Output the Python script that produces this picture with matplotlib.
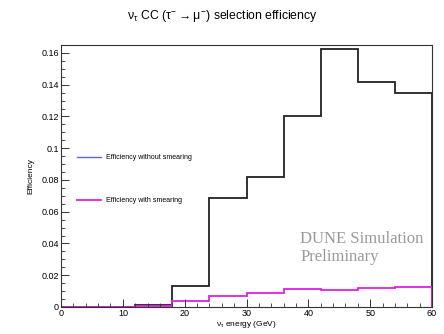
import numpy as np
import matplotlib
matplotlib.use("Agg")
import matplotlib.pyplot as plt
from matplotlib.lines import Line2D
from matplotlib.ticker import MultipleLocator

# ── Data ────────────────────────────────────────────────────────────────────────
bin_edges   = [0, 6, 12, 18, 24, 30, 36, 42, 48, 54, 60]
eff_nosmear = [0.0, 0.0, 0.0012, 0.0135, 0.0688, 0.0818, 0.1203, 0.1622, 0.1418, 0.1350]
eff_smear   = [0.0, 0.0, 0.0006, 0.0036, 0.0067, 0.0086, 0.0111, 0.0105, 0.0120, 0.0126]
legend_labels = ["Efficiency without smearing", "Efficiency with smearing"]

plt.rcParams["font.family"] = ["Liberation Sans", "DejaVu Sans"]
plt.rcParams["mathtext.fontset"] = "custom"
plt.rcParams["mathtext.rm"] = "Liberation Sans"
plt.rcParams["mathtext.it"] = "Liberation Sans"

fig = plt.figure(figsize=(4.44, 3.34), dpi=100)
ax = fig.add_axes([61 / 444, 1 - 307 / 334, 371 / 444, 262 / 334])

ax.stairs(eff_nosmear, bin_edges, color="#222222", linewidth=1.3)
ax.stairs(eff_smear, bin_edges, color="#e020e0", linewidth=1.3)

ax.set_xlim(0, 60)
ax.set_ylim(0, 0.165)
ax.xaxis.set_major_locator(MultipleLocator(10))
ax.xaxis.set_minor_locator(MultipleLocator(2))
ax.yaxis.set_major_locator(MultipleLocator(0.02))
ax.yaxis.set_minor_locator(MultipleLocator(0.005))
ax.yaxis.set_major_formatter(plt.FuncFormatter(lambda v, p: f"{v:g}"))
ax.tick_params(which="both", direction="in", top=False, right=False, labelsize=6.5,
               pad=1.5, color="#333333")
ax.tick_params(which="major", length=6, width=0.7)
ax.tick_params(which="minor", length=3, width=0.6)
for s in ax.spines.values():
    s.set_linewidth(0.8)
    s.set_color("#333333")

ax.set_xlabel(r"$\nu_\tau$ energy (GeV)", fontsize=6, labelpad=1)
ax.set_ylabel("Efficiency", fontsize=6, labelpad=5)
fig.suptitle(r"$\nu_\tau$ CC ($\tau^{-}\rightarrow\mu^{-}$) selection efficiency",
             x=0.5, y=0.977, fontsize=8.8)

# two separate legend rows, placed like the ROOT TLegend
colors = ["#5b6bb5", "#e020e0"]
for lbl, col, ypos, lw in zip(legend_labels, colors, [0.57, 0.405], [1.0, 1.3]):
    leg = ax.legend([Line2D([], [], color=col, linewidth=lw)], [lbl],
                    loc="center left", bbox_to_anchor=(0.025, ypos),
                    frameon=False, fontsize=5, handlelength=3.5, handletextpad=0.8)
    ax.add_artist(leg)
ax.legend_ = None   # avoid drawing the last one twice

ax.text(0.645, 0.225, "DUNE Simulation\nPreliminary", transform=ax.transAxes,
        family=["Liberation Serif", "DejaVu Serif"], fontsize=12, color="#9a9a9a",
        va="center", ha="left", linespacing=1.1)

fig.savefig("out.png", dpi=100)
